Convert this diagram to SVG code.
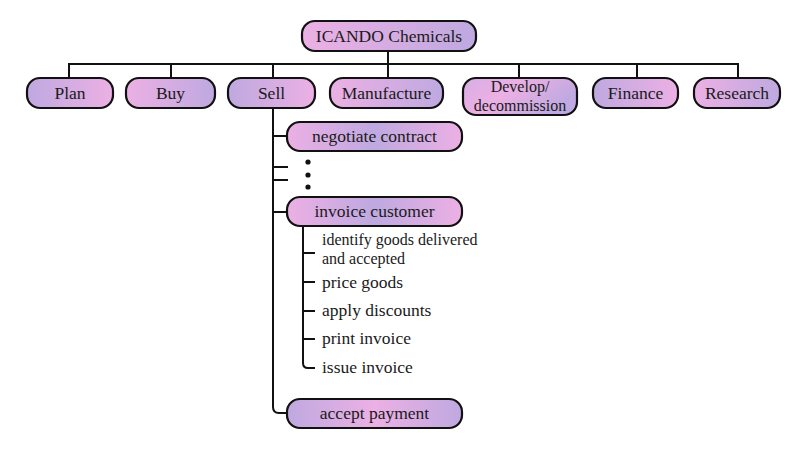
<svg xmlns="http://www.w3.org/2000/svg" width="803" height="451" viewBox="0 0 803 451">
<style>
.box{stroke:#111;stroke-width:2.2}
.t{font-family:"Liberation Serif","Times New Roman",serif;font-size:17.5px;fill:#1a1a1a}
.s{font-size:16px}
.c{text-anchor:middle}
.ln{fill:none;stroke:#111;stroke-width:2}
</style>
<defs>
<linearGradient id="pl" x1="0" y1="0" x2="1" y2="0"><stop offset="0" stop-color="#ecb0e4"/><stop offset="1" stop-color="#bea9e0"/></linearGradient>
<linearGradient id="lp" x1="0" y1="0" x2="1" y2="0"><stop offset="0" stop-color="#bea9e0"/><stop offset="1" stop-color="#ecb0e4"/></linearGradient>
<linearGradient id="plp" x1="0" y1="0" x2="1" y2="0"><stop offset="0" stop-color="#ecb0e4"/><stop offset="0.5" stop-color="#bea9e0"/><stop offset="1" stop-color="#ecb0e4"/></linearGradient>
<linearGradient id="lpl" x1="0" y1="0" x2="1" y2="0"><stop offset="0" stop-color="#bea9e0"/><stop offset="0.5" stop-color="#ecb0e4"/><stop offset="1" stop-color="#bea9e0"/></linearGradient>
<linearGradient id="dev" x1="0" y1="0" x2="1" y2="0.4"><stop offset="0" stop-color="#d8aee4"/><stop offset="0.45" stop-color="#ecb0e4"/><stop offset="1" stop-color="#bea9e0"/></linearGradient>
</defs>
<g id="connectors">
<path class="ln" d="M388 51V64M68 64H739M69 63V78M171 63V78M273 63V78M388 63V78M519 63V78M637 63V78M738 63V78"/>
<path class="ln" d="M273 108V407Q273 413 279 413H287M273 136H287M273 167H288M273 180H288M273 212H287"/>
<path class="ln" d="M303 226V363Q303 368 308 368H315M303 253H315M303 282H315M303 311H315M303 339H315"/>
<circle cx="308" cy="162" r="2.6" fill="#111"/>
<circle cx="308" cy="175" r="2.6" fill="#111"/>
<circle cx="308" cy="187" r="2.6" fill="#111"/>
</g>
<g id="root"><rect class="box" x="302" y="21" width="174" height="30" rx="13" fill="url(#pl)"/><text class="t c" x="389" y="42">ICANDO Chemicals</text></g>
<g id="plan"><rect class="box" x="27" y="78" width="86" height="30" rx="13" fill="url(#lp)"/><text class="t c" x="70" y="99">Plan</text></g>
<g id="buy"><rect class="box" x="126" y="78" width="89" height="30" rx="13" fill="url(#pl)"/><text class="t c" x="170.5" y="99">Buy</text></g>
<g id="sell"><rect class="box" x="228" y="78" width="87" height="30" rx="13" fill="url(#lp)"/><text class="t c" x="271.5" y="99">Sell</text></g>
<g id="manufacture"><rect class="box" x="330" y="78" width="113" height="30" rx="13" fill="url(#pl)"/><text class="t c" x="386.5" y="99">Manufacture</text></g>
<g id="develop"><rect class="box" x="463" y="78" width="114" height="37" rx="13" fill="url(#dev)"/><text class="t s c" x="520" y="92">Develop/</text><text class="t s c" x="520" y="110.5">decommission</text></g>
<g id="finance"><rect class="box" x="593" y="78" width="85" height="30" rx="13" fill="url(#lp)"/><text class="t c" x="635.5" y="99">Finance</text></g>
<g id="research"><rect class="box" x="694" y="78" width="86" height="30" rx="13" fill="url(#pl)"/><text class="t c" x="737" y="99">Research</text></g>
<g id="negotiate"><rect class="box" x="287" y="122" width="175" height="29" rx="13" fill="url(#plp)"/><text class="t c" x="374.5" y="142">negotiate contract</text></g>
<g id="invoice"><rect class="box" x="287" y="197" width="175" height="29" rx="13" fill="url(#plp)"/><text class="t c" x="374.5" y="217">invoice customer</text></g>
<g id="accept"><rect class="box" x="287" y="399" width="175" height="29" rx="13" fill="url(#lpl)"/><text class="t c" x="374.5" y="419">accept payment</text></g>
<g id="steps">
<text class="t s" x="322" y="245">identify goods delivered</text>
<text class="t s" x="322" y="263.5">and accepted</text>
<text class="t" x="322" y="288">price goods</text>
<text class="t" x="322" y="316">apply discounts</text>
<text class="t" x="322" y="344">print invoice</text>
<text class="t" x="322" y="373">issue invoice</text>
</g>
</svg>
